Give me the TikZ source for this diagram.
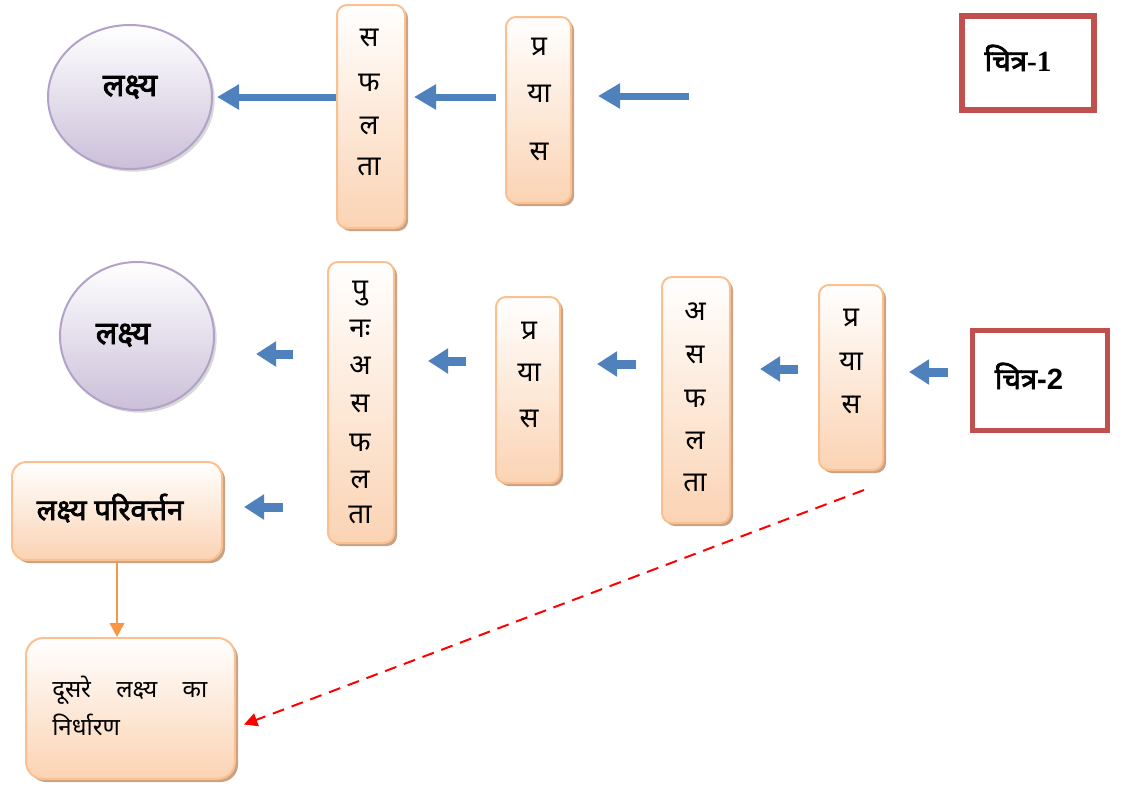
\documentclass[tikz,border=0pt]{standalone}
\usepackage{fontspec}
\newfontfamily\dev[Script=Devanagari]{Noto Sans}
\newfontfamily\devb[Script=Devanagari,FakeBold=2.5]{Noto Sans}
\newfontfamily\tnr{Liberation Serif}
\newfontfamily\ari{Liberation Sans}
\usetikzlibrary{shapes.geometric,shadows,arrows.meta}
\definecolor{bluea}{HTML}{4F81BD}
\definecolor{boxborder}{HTML}{FAC08F}
\definecolor{boxfill}{HTML}{FBD3B3}
\definecolor{boxshadow}{HTML}{C9A286}
\definecolor{ellborder}{HTML}{B3A2C7}
\definecolor{ellfill}{HTML}{CBBFD9}
\definecolor{redbox}{HTML}{C0504D}
\definecolor{orangea}{HTML}{F79646}
\newcommand{\pxu}{0.75pt}
\begin{document}
\begin{tikzpicture}[x=0.75pt,y=-0.75pt,
  box/.style={draw=boxborder, line width=1.5pt, rounded corners=7.5pt,
    top color=white, bottom color=boxfill, inner sep=0pt,
    drop shadow={shadow xshift=2.25pt, shadow yshift=-2.25pt, fill=boxshadow, opacity=1}},
  ell/.style={ellipse, draw=ellborder, line width=1.5pt, inner sep=0pt,
    top color=white, bottom color=ellfill,
    drop shadow={shadow xshift=2pt, shadow yshift=-2pt, fill=black!15, opacity=1}},
  redframe/.style={draw=redbox, inner sep=0pt, fill=white},
  letter/.style={font=\dev\fontsize{21}{24}\selectfont, inner sep=0pt, anchor=base},
  boldlabel/.style={font=\devb\fontsize{22}{26}\selectfont, inner sep=0pt, anchor=base},
  elllabel/.style={font=\devb\fontsize{24}{28}\selectfont, inner sep=0pt, anchor=base},
  bigarrow/.style={draw=bluea, line width=5.25pt, -{Triangle[length=16.5pt,width=18pt]}},
  smallarrow/.style={draw=bluea, line width=6.75pt, -{Triangle[length=15pt,width=18pt]}},
  orangearrow/.style={draw=orangea, line width=1.5pt, -{Triangle[length=10.5pt,width=11pt]}},
  redarrow/.style={draw=red, line width=1.5pt, dash pattern=on 9pt off 6pt, -{Triangle[length=10pt,width=10pt]}}
]
\useasboundingbox (0,0) rectangle (1124,785);

% ---- Figure 1 ----
\node[ell, minimum width=164*\pxu, minimum height=144*\pxu] (e1) at (130,97) {};
\node[elllabel] (e1t) at (130,96) {लक्ष्य};

\node[box, minimum width=68*\pxu, minimum height=223*\pxu] (saf) at (371,116.5) {};
\foreach \t/\y [count=\i] in {स/46, फ/91, ल/134, ता/175}
  \node[letter] (saf\i) at (369,\y) {\t};

\node[box, minimum width=65*\pxu, minimum height=186*\pxu] (pr1) at (538.5,110) {};
\foreach \t/\y [count=\i] in {प्र/55, या/102, स/160}
  \node[letter] (pra\i) at (539,\y) {\t};

\coordinate (a3s) at (689,96);
\draw[bigarrow] (saf.west |- e1.east) -- ([xshift=3pt]e1.east);
\draw[bigarrow, shorten <=6.75pt, shorten >=6pt] (pr1.west |- e1.east) -- (saf.east |- e1.east);
\draw[bigarrow, shorten >=19.5pt] (a3s) -- (pr1.east |- a3s);

\node[redframe, line width=4.5pt, minimum width=132*\pxu, minimum height=94*\pxu] (c1) at (1028,63) {};
\node[boldlabel] (c1t) at (1018,71) {चित्र{\tnr\bfseries -1}};

% ---- Figure 2 ----
\node[ell, minimum width=154*\pxu, minimum height=148*\pxu] (e2) at (137,336) {};
\node[elllabel] (e2t) at (123,344) {लक्ष्य};

\node[box, minimum width=66*\pxu, minimum height=281*\pxu] (pun) at (361,402.5) {};
\foreach \t/\y [count=\i] in {पु/298, नः/337, अ/374, स/412, फ/451, ल/488, ता/523}
  \node[letter] (pun\i) at (360,\y) {\t};

\node[box, minimum width=64*\pxu, minimum height=186*\pxu] (pr2) at (528,390) {};
\foreach \t/\y [count=\i] in {प्र/339, या/381, स/427}
  \node[letter] (prb\i) at (529,\y) {\t};

\node[box, minimum width=68*\pxu, minimum height=246*\pxu] (asf) at (696,400) {};
\foreach \t/\y [count=\i] in {अ/320, स/363, फ/407, ल/449, ता/491}
  \node[letter] (asf\i) at (695,\y) {\t};

\node[box, minimum width=64*\pxu, minimum height=185*\pxu] (pr3) at (851,377.5) {};
\foreach \t/\y [count=\i] in {प्र/326, या/370, स/413}
  \node[letter] (prc\i) at (851,\y) {\t};

\node[redframe, line width=3.75pt, minimum width=135*\pxu, minimum height=100*\pxu] (c2) at (1040,380.5) {};
\node[boldlabel] (c2t) at (1029,389) {चित्र{\ari\bfseries -2}};

\node[box, rounded corners=11pt, minimum width=210*\pxu, minimum height=98*\pxu] (lp) at (117,511) {};
\node[boldlabel] (lpt) at (110,520) {लक्ष्य परिवर्त्तन};

\node[box, rounded corners=13pt, minimum width=209*\pxu, minimum height=141*\pxu] (ds) at (130.5,708.5) {};
\node[font=\dev\fontsize{18}{28.5}\selectfont, inner sep=0pt, anchor=base west, align=left] (dst) at (52,735)
  {\makebox[116.25pt][s]{दूसरे लक्ष्य का}\\निर्धारण};

% small arrows
\coordinate (s1a) at (293,354); \coordinate (s1b) at (256,354);
\coordinate (s2a) at (466,361); \coordinate (s2b) at (428,361);
\coordinate (s3a) at (636,364); \coordinate (s3b) at (597,364);
\coordinate (s4a) at (798,369); \coordinate (s4b) at (760,369);
\coordinate (s5a) at (948,372); \coordinate (s5b) at (909,372);
\coordinate (s6a) at (283,507); \coordinate (s6b) at (244,507);
\draw[smallarrow] (s1a) -- (s1b);
\draw[smallarrow] (s2a) -- (s2b);
\draw[smallarrow] (s3a) -- (s3b);
\draw[smallarrow] (s4a) -- (s4b);
\draw[smallarrow] (s5a) -- (s5b);
\draw[smallarrow] (s6a) -- (s6b);

\draw[orangearrow] (lp.south) -- (lp.south |- ds.north);

\coordinate (rds) at (864,490);
\draw[redarrow] (rds) -- ([shift={(8,16)}]ds.east);
\end{tikzpicture}
\end{document}
